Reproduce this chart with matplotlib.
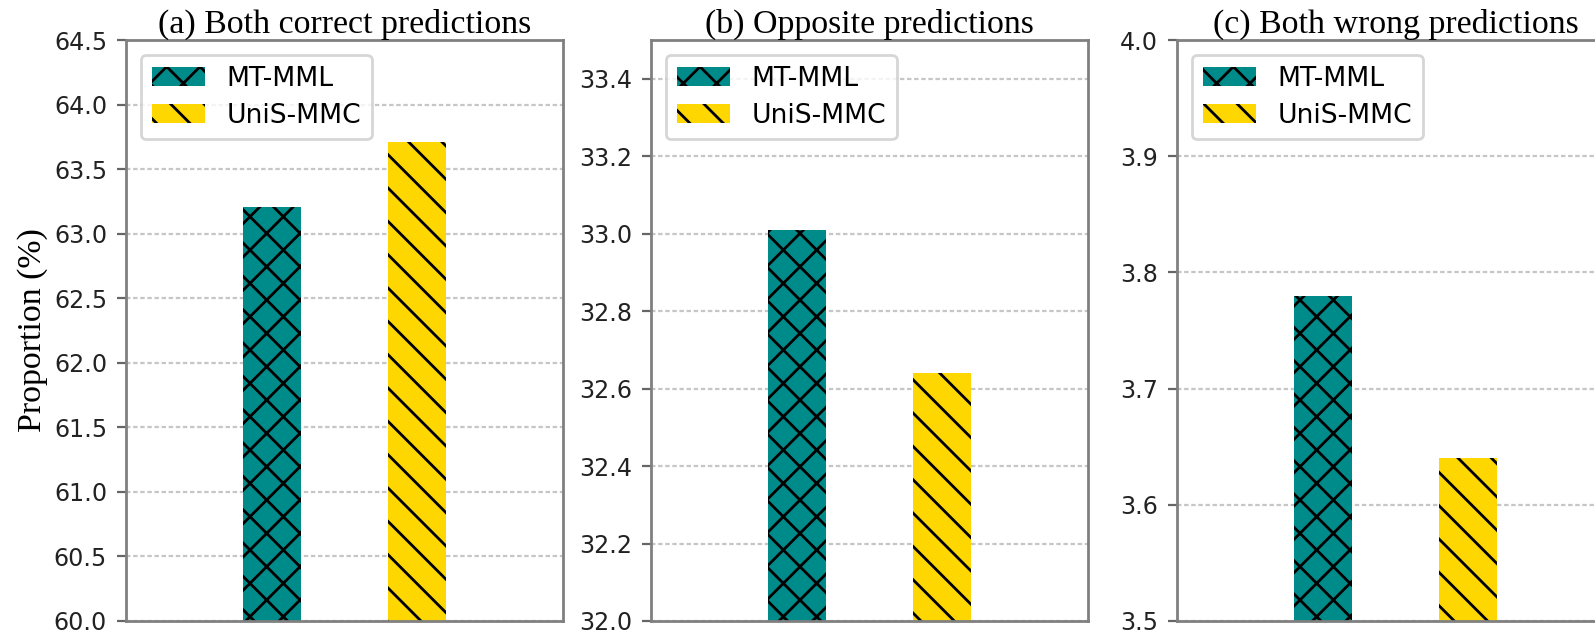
import numpy as np
import matplotlib
matplotlib.use('Agg')
import matplotlib.pyplot as plt
from matplotlib.ticker import MultipleLocator

# Datos
methods = ['MT-MML', 'UniS-MMC']
titles = ['(a) Both correct predictions', '(b) Opposite predictions', '(c) Both wrong predictions']
both_correct = [63.21, 63.71]
opposite = [33.01, 32.64]
both_wrong = [3.78, 3.64]
panels = [both_correct, opposite, both_wrong]
y_limits = [(60.0, 64.5), (32.0, 33.5), (3.5, 4.0)]
y_steps = [0.5, 0.2, 0.1]

colors = ['#008B8B', '#FFD700']
hatches = ['xx', '\\\\']

DPI = 200
fig = plt.figure(figsize=(1595 / DPI, 636 / DPI), dpi=DPI)

W, H = 1595, 636
lefts = [126, 651, 1177]
ax_w, top, bottom = 437, 40, 621
serif = 'Liberation Serif'

for i, vals in enumerate(panels):
    ax = fig.add_axes([lefts[i] / W, 1 - bottom / H, ax_w / W, (bottom - top) / H])
    for j, v in enumerate(vals):
        ax.bar(j, v, width=0.4, color=colors[j], hatch=hatches[j],
               edgecolor='black', linewidth=0, label=methods[j], zorder=2)
    ax.set_xlim(-1, 2)
    ax.set_ylim(*y_limits[i])
    ax.yaxis.set_major_locator(MultipleLocator(y_steps[i]))
    ax.set_xticks([])
    ax.grid(axis='y', linestyle=(0, (2, 1.2)), color='#b8b8b8', linewidth=0.8, alpha=0.8, zorder=0)
    ax.tick_params(axis='y', labelsize=8.55, colors='#666666', labelcolor='#222222', length=3.3)
    for s in ax.spines.values():
        s.set_color('#808080')
        s.set_linewidth(1.0)
    ax.set_title(titles[i], fontfamily=serif, fontsize=12.2, pad=1.5)
    ax.legend(loc='upper left', fontsize=9.6, labelspacing=0.42, borderpad=0.4,
              borderaxespad=0.56)
    if i == 0:
        ax.set_ylabel('Proportion (%)', fontfamily=serif, fontsize=12.2, labelpad=2)

fig.savefig('out.png', dpi=DPI)
plt.close()
